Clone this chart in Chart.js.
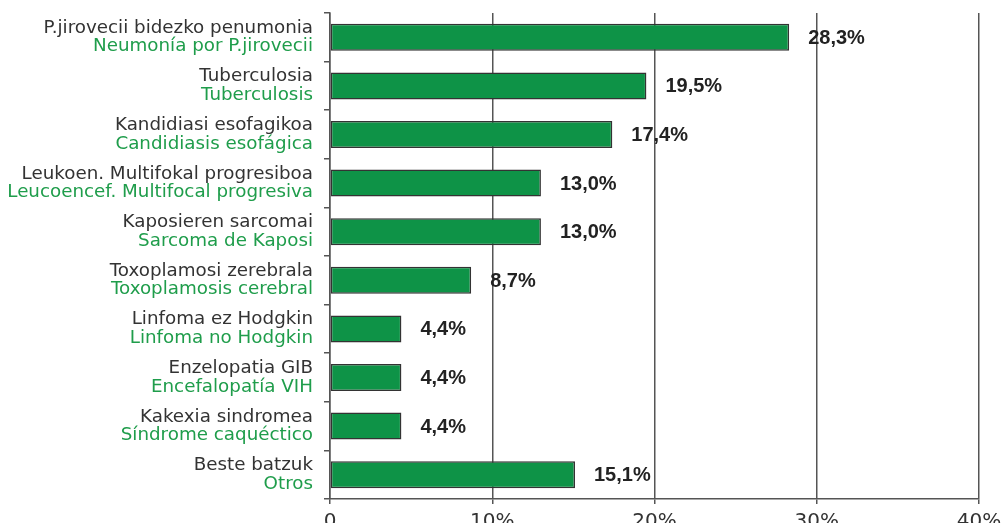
<!DOCTYPE html>
<html><head><meta charset="utf-8">
<script src="https://cdn.jsdelivr.net/npm/chart.js@4"></script>
<style>html,body{margin:0;padding:0;background:#fff}#wrap{width:1001px;height:523px;position:relative}</style>
</head><body><div id="wrap"><canvas id="c"></canvas></div>
<script>
const labelsEu = ['P.jirovecii bidezko penumonia','Tuberculosia','Kandidiasi esofagikoa','Leukoen. Multifokal progresiboa','Kaposieren sarcomai','Toxoplamosi zerebrala','Linfoma ez Hodgkin','Enzelopatia GIB','Kakexia sindromea','Beste batzuk'];
const labelsEs = ['Neumonía por P.jirovecii','Tuberculosis','Candidiasis esofágica','Leucoencef. Multifocal progresiva','Sarcoma de Kaposi','Toxoplamosis cerebral','Linfoma no Hodgkin','Encefalopatía VIH','Síndrome caquéctico','Otros'];
const values = [28.3,19.5,17.4,13.0,13.0,8.7,4.4,4.4,4.4,15.1];
const valueLabels = ['28,3%','19,5%','17,4%','13,0%','13,0%','8,7%','4,4%','4,4%','4,4%','15,1%'];
const xTickValues = [0,10,20,30,40];
const xTickLabels = ['0','10%','20%','30%','40%'];

const catFont = '18.3px "DejaVu Sans"';
const catLabelsPlugin = {
  id:'catLabels',
  afterDraw(chart){
    const ctx = chart.ctx, y = chart.scales.y;
    ctx.save();
    ctx.font = catFont;
    ctx.textAlign = 'right';
    ctx.textBaseline = 'alphabetic';
    labelsEu.forEach((t,i)=>{
      const py = y.getPixelForValue(i);
      ctx.fillStyle = '#333333';
      ctx.fillText(t, 313, py - 4.5);
      ctx.fillStyle = '#1f9d4b';
      ctx.fillText(labelsEs[i], 313, py + 14);
    });
    ctx.restore();
  }
};
const valLabelsPlugin = {
  id:'valLabels',
  afterDatasetsDraw(chart){
    const ctx = chart.ctx, meta = chart.getDatasetMeta(0);
    ctx.save();
    ctx.font = 'bold 20px "Liberation Sans", Arial, sans-serif';
    ctx.fillStyle = '#222222';
    ctx.textAlign = 'left';
    ctx.textBaseline = 'middle';
    meta.data.forEach((el,i)=>{
      ctx.fillText(valueLabels[i], el.x + 19, el.y + 1);
    });
    ctx.restore();
  }
};

new Chart(document.getElementById('c'), {
  type:'bar',
  data:{ labels: labelsEu, datasets:[{ data: values, backgroundColor:'#0e9347', borderColor:'#333333', borderWidth:1.5, borderSkipped:false, barPercentage:0.556, categoryPercentage:1 }]},
  options:{
    indexAxis:'y', responsive:true, maintainAspectRatio:false, animation:false,
    layout:{ padding:{ top:13, right:22, left:0, bottom:0 } },
    plugins:{ legend:{display:false}, tooltip:{enabled:false} },
    scales:{
      x:{
        min:0, max:40,
        afterBuildTicks(s){ s.ticks = xTickValues.map(v=>({value:v})); },
        afterFit(s){ s.height = 24; s.paddingLeft = 0; s.paddingRight = 0; },
        grid:{ color:'#555555', lineWidth:1.5, tickLength:5, drawTicks:true },
        border:{ display:true, color:'#555555', width:1.5 },
        ticks:{ font:{ family:'"DejaVu Sans"', size:20 }, color:'#333333', padding:6, maxRotation:0,
          callback(v){ const i = xTickValues.indexOf(v); return i>=0 ? xTickLabels[i] : ''; } }
      },
      y:{
        afterFit(s){ s.width = 330; s.paddingTop = 0; s.paddingBottom = 0; },
        grid:{ drawOnChartArea:false, tickLength:6, color:'#555555', lineWidth:1.5, offset:true },
        border:{ display:true, color:'#555555', width:1.5 },
        ticks:{ display:false }
      }
    }
  },
  plugins:[catLabelsPlugin, valLabelsPlugin]
});
</script></body></html>
